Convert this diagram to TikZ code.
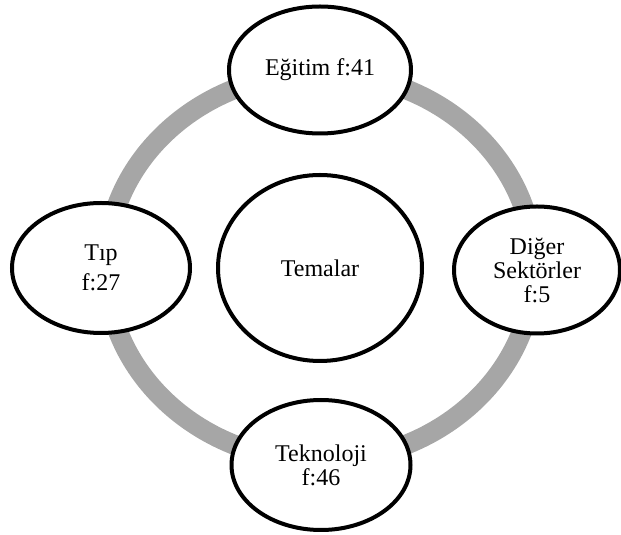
\documentclass[tikz,border=0pt]{standalone}
\usepackage{fontspec}
\setmainfont{Liberation Serif}
\usetikzlibrary{shapes.geometric}
\definecolor{ringgray}{RGB}{166,166,166}

\begin{document}
\begin{tikzpicture}
[
    x=0.75pt, y=0.75pt,
    tema/.style={draw, ellipse, line width=3pt, fill=white, inner sep=0pt,
                 align=center, font=\fontsize{18}{18}\selectfont},
]
\useasboundingbox (0,0) rectangle (621,535);
\draw [ringgray, line width=15pt] (320,268) ellipse [x radius=214, y radius=194];
\node [tema, minimum width=153pt, minimum height=139.5pt] (temalar) at (320,267)
{Temalar};
\node [tema, minimum width=136.5pt, minimum height=95.25pt] (egitim) at (320,465)
{Eğitim f:41};
\node [tema, minimum width=133.5pt, minimum height=97.5pt] (tip) at (101,267)
{Tıp\\[4.5pt] f:27};
\node [tema, minimum width=124.5pt, minimum height=95.25pt] (diger) at (537,265)
{Diğer\\ Sektörler\\ f:5};
\node [tema, minimum width=134.25pt, minimum height=97.5pt] (teknoloji) at (321,70)
{Teknoloji\\ f:46};
\end{tikzpicture}
\end{document}
